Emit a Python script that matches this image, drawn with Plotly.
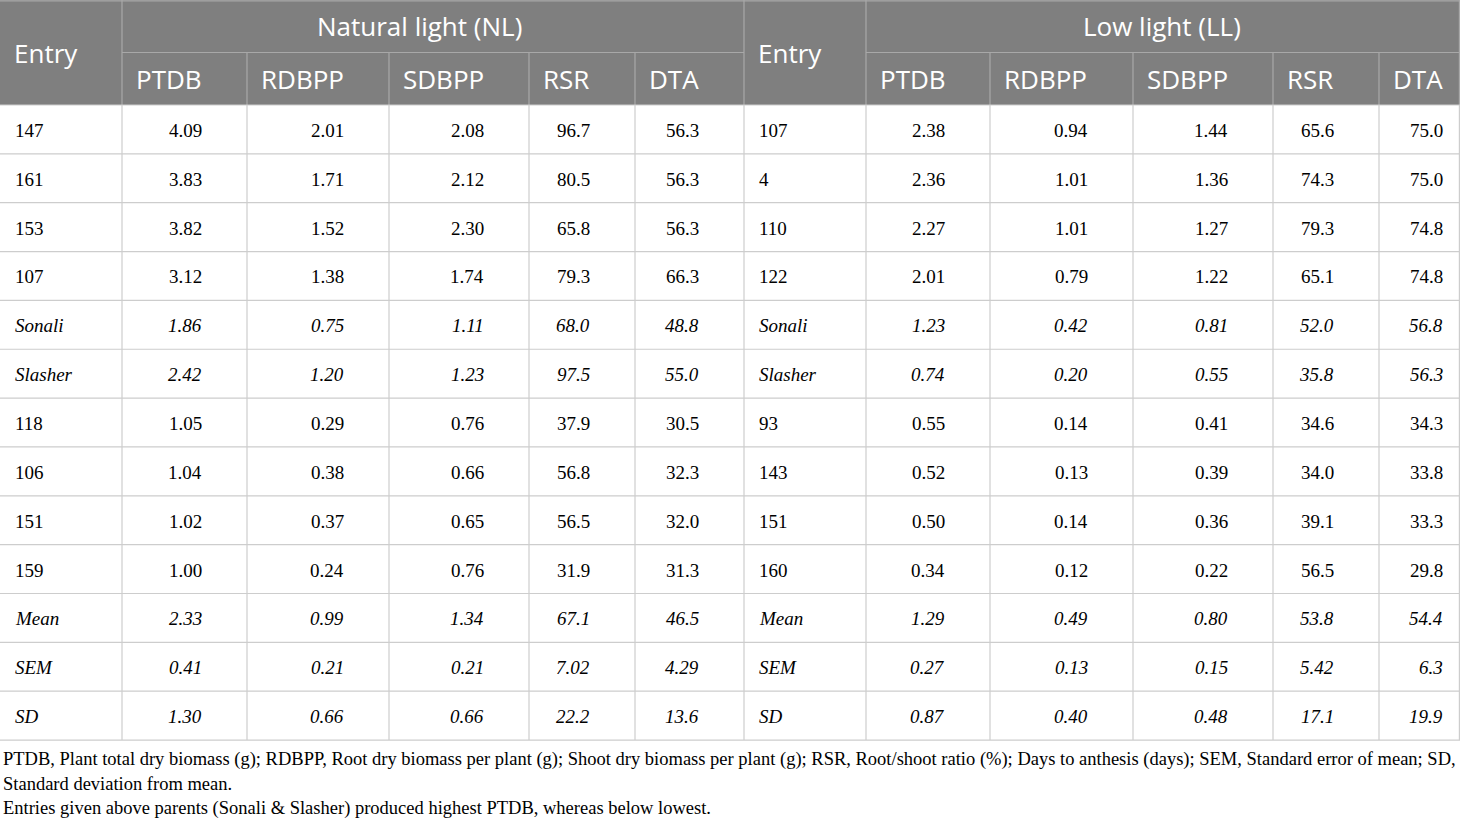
import plotly.graph_objects as go

# Table values
nl_entry = ["147", "161", "153", "107", "Sonali", "Slasher", "118", "106", "151", "159", "Mean", "SEM", "SD"]
nl_ptdb = ["4.09", "3.83", "3.82", "3.12", "1.86", "2.42", "1.05", "1.04", "1.02", "1.00", "2.33", "0.41", "1.30"]
nl_rdbpp = ["2.01", "1.71", "1.52", "1.38", "0.75", "1.20", "0.29", "0.38", "0.37", "0.24", "0.99", "0.21", "0.66"]
nl_sdbpp = ["2.08", "2.12", "2.30", "1.74", "1.11", "1.23", "0.76", "0.66", "0.65", "0.76", "1.34", "0.21", "0.66"]
nl_rsr = ["96.7", "80.5", "65.8", "79.3", "68.0", "97.5", "37.9", "56.8", "56.5", "31.9", "67.1", "7.02", "22.2"]
nl_dta = ["56.3", "56.3", "56.3", "66.3", "48.8", "55.0", "30.5", "32.3", "32.0", "31.3", "46.5", "4.29", "13.6"]

ll_entry = ["107", "4", "110", "122", "Sonali", "Slasher", "93", "143", "151", "160", "Mean", "SEM", "SD"]
ll_ptdb = ["2.38", "2.36", "2.27", "2.01", "1.23", "0.74", "0.55", "0.52", "0.50", "0.34", "1.29", "0.27", "0.87"]
ll_rdbpp = ["0.94", "1.01", "1.01", "0.79", "0.42", "0.20", "0.14", "0.13", "0.14", "0.12", "0.49", "0.13", "0.40"]
ll_sdbpp = ["1.44", "1.36", "1.27", "1.22", "0.81", "0.55", "0.41", "0.39", "0.36", "0.22", "0.80", "0.15", "0.48"]
ll_rsr = ["65.6", "74.3", "79.3", "65.1", "52.0", "35.8", "34.6", "34.0", "39.1", "56.5", "53.8", "5.42", "17.1"]
ll_dta = ["75.0", "75.0", "74.8", "74.8", "56.8", "56.3", "34.3", "33.8", "33.3", "29.8", "54.4", "6.3", "19.9"]

group_titles = ["Natural light (NL)", "Low light (LL)"]
sub_headers = ["PTDB", "RDBPP", "SDBPP", "RSR", "DTA"]
entry_header = "Entry"

footnotes = [
    "PTDB, Plant total dry biomass (g); RDBPP, Root dry biomass per plant (g); Shoot dry biomass per plant (g); "
    "RSR, Root/shoot ratio (%); Days to anthesis (days); SEM, Standard error of mean; SD,",
    "Standard deviation from mean.",
    "Entries given above parents (Sonali & Slasher) produced highest PTDB, whereas below lowest.",
]

# rows shown in italics (parents and summary stats)
italic_rows = [4, 5, 10, 11, 12]

# layout of the table in pixels
W, H = 1460, 820
edges = [0, 122, 247, 389, 529, 635, 744, 866, 990, 1133, 1273, 1379, 1460]
head_top, head_mid, head_bot = 0, 52.5, 105
row_h = 48.85
title_shift = [-14, -1]   # group titles sit slightly left of their span centre

HEAD_BG = "#7f7f7f"
HEAD_LINE = "#a8a8a8"
BODY_LINE = "#cdcdcd"
SANS = "Open Sans"
SERIF = "Liberation Serif"

columns = [nl_entry, nl_ptdb, nl_rdbpp, nl_sdbpp, nl_rsr, nl_dta,
           ll_entry, ll_ptdb, ll_rdbpp, ll_sdbpp, ll_rsr, ll_dta]
n_rows = len(nl_entry)
body_bot = head_bot + n_rows * row_h

fig = go.Figure()
shapes = []
annotations = []

# header background
shapes.append(dict(type="rect", x0=0, x1=W, y0=head_top, y1=head_bot,
                   fillcolor=HEAD_BG, line=dict(width=0), layer="below"))


def hline(x0, x1, y, color):
    shapes.append(dict(type="line", x0=x0, x1=x1, y0=y, y1=y, line=dict(color=color, width=1.2)))


def vline(x, y0, y1, color):
    shapes.append(dict(type="line", x0=x, x1=x, y0=y0, y1=y1, line=dict(color=color, width=1.2)))


# header grid
hline(0, W, head_top + 0.8, HEAD_LINE)
hline(edges[1], edges[6], head_mid, HEAD_LINE)
hline(edges[7], edges[12], head_mid, HEAD_LINE)
for i in [1, 6, 7]:
    vline(edges[i], head_top, head_bot, HEAD_LINE)
vline(W - 0.6, head_top, head_bot, HEAD_LINE)
for i in [2, 3, 4, 5, 8, 9, 10, 11]:
    vline(edges[i], head_mid, head_bot, HEAD_LINE)

# body grid
for r in range(n_rows + 1):
    hline(0, W, head_bot + r * row_h, BODY_LINE)
for i in range(1, len(edges)):
    x = edges[i] if i < len(edges) - 1 else W - 0.6
    vline(x, head_bot, body_bot, BODY_LINE)


def add_text(x, y, text, xanchor, font):
    annotations.append(dict(x=x, y=y, xref="x", yref="y", text=text, showarrow=False,
                            xanchor=xanchor, yanchor="middle", font=font))


head_font = dict(family=SANS, size=26, color="white")
# header texts
for g, start in enumerate([0, 6]):
    add_text(edges[start] + 12, (head_top + head_bot) / 2, entry_header, "left", head_font)
    add_text((edges[start + 1] + edges[start + 6]) / 2 + title_shift[g], (head_top + head_mid) / 2,
             group_titles[g], "center", head_font)
    for k, name in enumerate(sub_headers):
        add_text(edges[start + 1 + k] + 12, (head_mid + head_bot) / 2, name, "left", head_font)

# body texts
body_font = dict(family=SERIF, size=19, color="black")
for c, values in enumerate(columns):
    for r, val in enumerate(values):
        txt = f"<i>{val}</i>" if r in italic_rows else val
        y = head_bot + (r + 0.5) * row_h + 1
        if c in (0, 6):
            add_text(edges[c] + 13, y, txt, "left", body_font)
        else:
            pad = 15 if c == len(columns) - 1 else 43
            add_text(edges[c + 1] - pad, y, txt, "right", body_font)

# footnotes
foot_font = dict(family=SERIF, size=18.5, color="black")
for i, line in enumerate(footnotes):
    add_text(0.5, body_bot + 19 + i * 24.5, line, "left", foot_font)

# invisible trace so the axes are drawn
fig.add_trace(go.Scatter(x=[0, W], y=[0, H], mode="markers", marker=dict(opacity=0),
                         hoverinfo="skip", showlegend=False))

fig.update_layout(
    width=W, height=H,
    margin=dict(l=0, r=0, t=0, b=0),
    paper_bgcolor="white", plot_bgcolor="white",
    xaxis=dict(range=[0, W], visible=False, fixedrange=True),
    yaxis=dict(range=[H, 0], visible=False, fixedrange=True),
    shapes=shapes, annotations=annotations,
)

# page body has a default 8px margin; drop it so the table sits at the corner
fig.write_html("out.html", config={"displayModeBar": False},
               post_script="document.body.style.margin='0px';")
